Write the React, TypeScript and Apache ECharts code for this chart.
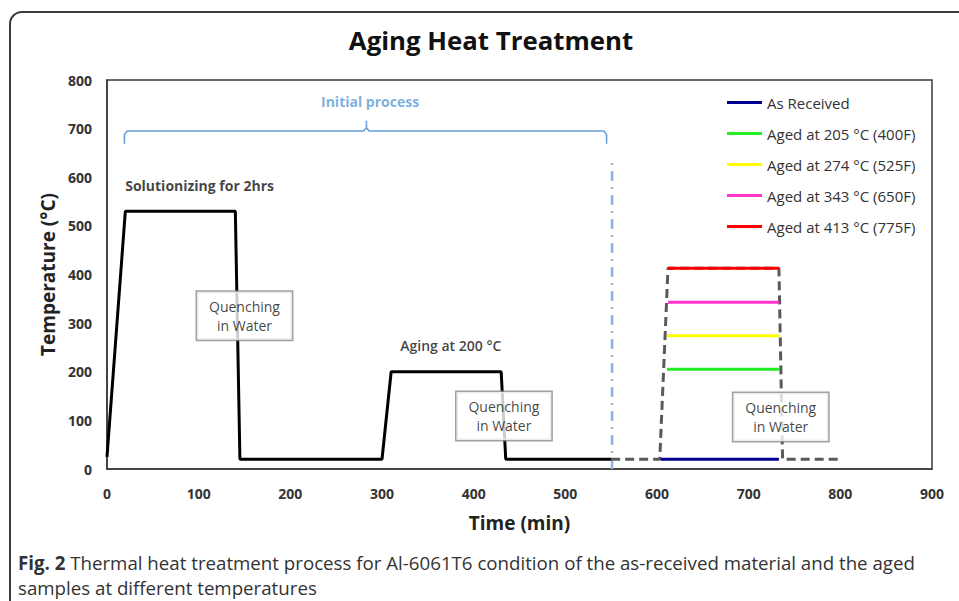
import React, { useEffect, useRef } from "react";
import * as echarts from "echarts";

// Main initial-process curve (time in min, temperature in °C)
const mainTime = [0, 20, 140, 145, 300, 310, 430, 435, 550];
const mainTemp = [25, 530, 530, 20, 20, 200, 200, 20, 20];

// Dashed aging envelope
const dashTime = [550, 603, 612, 733, 737, 800];
const dashTemp = [20, 20, 413, 413, 20, 20];

// Aging holds
const agedNames = [
  "As Received",
  "Aged at 205 °C (400F)",
  "Aged at 274 °C (525F)",
  "Aged at 343 °C (650F)",
  "Aged at 413 °C (775F)",
];
const agedTemps = [20, 205, 274, 343, 413];
const agedStart = [604, 611, 611, 612, 612];
const agedEnd = [733, 734, 734, 733, 733];
const agedColors = ["#000090", "#22ee22", "#ffff00", "#ff33cc", "#ff0000"];

// Divider (dash-dot) line
const dividerTime = [551, 551];
const dividerTemp = [0, 640];

// "Initial process" brace
const braceTime = [19, 19, 22, 280, 283, 283, 283, 286, 542, 545, 545];
const braceTemp = [669, 688, 695, 695, 702, 716, 702, 695, 695, 688, 669];

// Axis ticks
const xTicks = { min: 0, max: 900, interval: 100 };
const yTicks = { min: 0, max: 800, interval: 100 };

// Annotations (data coordinates of text centres)
const plainNotes = [
  { text: "Solutionizing for 2hrs", time: 101, temp: 584, color: "#111", weight: "bold" },
  { text: "Initial process", time: 287, temp: 755, color: "#5b9bd5", weight: "bold" },
  { text: "Aging at 200 °C", time: 375, temp: 255, color: "#111", weight: 600 },
];
const boxNotes = [
  { text: "Quenching\nin Water", time: 150, temp: 315 },
  { text: "Quenching\nin Water", time: 433, temp: 109 },
  { text: "Quenching\nin Water", time: 735, temp: 107 },
];

const FONT = "'Open Sans', Lato, sans-serif";

export default function App() {
  const ref = useRef<HTMLDivElement>(null);
  useEffect(() => {
    document.body.style.margin = "0";
    const chart = echarts.init(ref.current!, undefined, { renderer: "svg" });
    const zip = (a: number[], b: number[]) => a.map((v, i) => [v, b[i]]);

    const series: any[] = [
      {
        name: "brace",
        type: "line",
        data: zip(braceTime, braceTemp),
        symbol: "none",
        lineStyle: { color: "#6a9fdc", width: 1.6 },
        z: 3,
      },
      {
        name: "divider",
        type: "line",
        data: zip(dividerTime, dividerTemp),
        symbol: "none",
        lineStyle: { color: "#8fb4e0", width: 2.5, type: [10, 6, 2, 6] },
        z: 3,
      },
      {
        name: "main",
        type: "line",
        data: zip(mainTime, mainTemp),
        symbol: "none",
        lineStyle: { color: "#000", width: 3 },
        z: 4,
      },
      {
        name: "dashed",
        type: "line",
        data: zip(dashTime, dashTemp),
        symbol: "none",
        lineStyle: { color: "#595959", width: 3, type: [9, 5] },
        z: 4,
      },
      ...agedNames.map((n, i) => ({
        name: n,
        type: "line",
        data: [
          [agedStart[i], agedTemps[i]],
          [agedEnd[i], agedTemps[i]],
        ],
        symbol: "none",
        itemStyle: { color: agedColors[i] },
        lineStyle: { color: agedColors[i], width: 3 },
        z: 5,
      })),
      {
        name: "notes",
        type: "scatter",
        symbolSize: 0,
        z: 20,
        data: plainNotes.map((n) => ({
          value: [n.time, n.temp],
          label: {
            show: true,
            position: "inside",
            formatter: n.text,
            color: n.color,
            fontWeight: n.weight,
            fontSize: 14,
            fontFamily: FONT,
          },
        })),
      },
      {
        name: "boxes",
        type: "scatter",
        symbolSize: 0,
        z: 30,
        data: boxNotes.map((n) => ({
          value: [n.time, n.temp],
          label: {
            show: true,
            position: "inside",
            formatter: n.text,
            color: "#111",
            fontSize: 14,
            fontFamily: FONT,
            lineHeight: 19,
            align: "center",
            backgroundColor: "#fff",
            borderColor: "#8a8a8a",
            borderWidth: 1.5,
            padding: [5, 12, 5, 12],
          },
        })),
      },
    ];

    chart.setOption({
      animation: false,
      textStyle: { fontFamily: FONT },
      grid: { left: 107, right: 27, top: 80, bottom: 132, show: true, borderColor: "#3a3a3a", borderWidth: 1.5 },
      legend: {
        data: agedNames,
        orient: "vertical",
        left: 722,
        top: 90,
        icon: "rect",
        itemWidth: 35,
        itemHeight: 3,
        itemGap: 16,
        textStyle: { fontSize: 15, color: "#333", fontFamily: FONT, lineHeight: 15 },
      },
      graphic: [
        {
          type: "rect",
          shape: { x: 10, y: 12, width: 1000, height: 700, r: 12 },
          style: { fill: "none", stroke: "#3a3a3a", lineWidth: 2 },
          z: -1,
        },
        {
          type: "text",
          style: {
            x: 491,
            y: 40,
            text: "Aging Heat Treatment",
            fontSize: 25.8,
            fontWeight: "bold",
            fontFamily: FONT,
            fill: "#111",
            align: "center",
            verticalAlign: "middle",
          },
        },
        {
          type: "text",
          style: {
            x: 18,
            y: 550,
            text:
              "{b|Fig. 2} Thermal heat treatment process for Al-6061T6 condition of the as-received material and the aged\nsamples at different temperatures",
            fontSize: 18.7,
            fontFamily: FONT,
            fill: "#333",
            lineHeight: 25,
            rich: {
              b: { fontWeight: "bold", fontSize: 18.7, fontFamily: FONT, fill: "#333" },
            },
          },
        },
      ],
      xAxis: {
        type: "value",
        ...xTicks,
        name: "Time (min)",
        nameLocation: "middle",
        nameGap: 44,
        nameTextStyle: { fontSize: 19, fontWeight: "bold", color: "#222", fontFamily: FONT },
        axisLine: { lineStyle: { color: "#3a3a3a", width: 1.5 } },
        axisTick: { show: false },
        splitLine: { show: false },
        axisLabel: { fontSize: 14, fontWeight: "bold", color: "#333", margin: 17 },
      },
      yAxis: {
        type: "value",
        ...yTicks,
        name: "Temperature (°C)",
        nameLocation: "middle",
        nameGap: 44,
        nameTextStyle: { fontSize: 19, fontWeight: "bold", color: "#222", fontFamily: FONT },
        axisLine: { show: true, lineStyle: { color: "#3a3a3a", width: 1.5 } },
        axisTick: { show: false },
        splitLine: { show: false },
        axisLabel: { fontSize: 14, fontWeight: "bold", color: "#333", margin: 15 },
      },
      series,
    });
    return () => chart.dispose();
  }, []);
  return <div ref={ref} style={{ width: 959, height: 601 }} />;
}
